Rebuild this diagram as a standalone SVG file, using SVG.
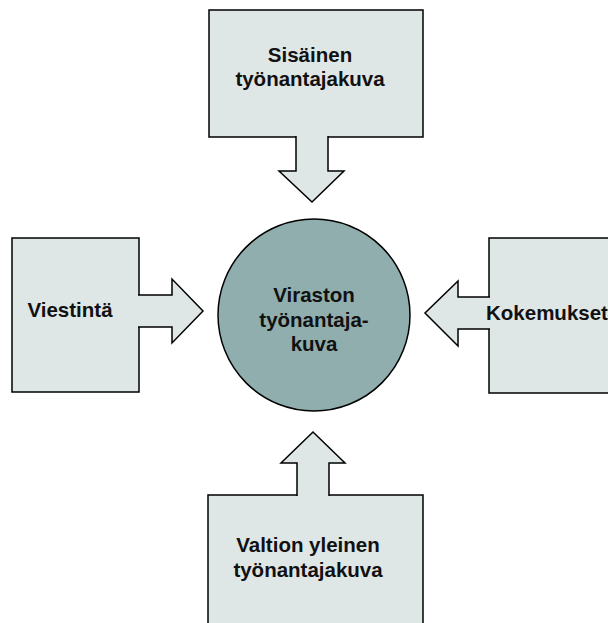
<svg xmlns="http://www.w3.org/2000/svg" width="608" height="623" viewBox="0 0 608 623">
<style>
.box{fill:#dfe6e6;stroke:#000;stroke-width:1.5}
.arr{fill:#dfe6e6;stroke:#000;stroke-width:1.5;stroke-linejoin:miter}
.hub{fill:#90aeae;stroke:#000;stroke-width:1.5}
text{font-family:"Liberation Sans",Arial,sans-serif;font-weight:bold;font-size:20.5px;fill:#111;text-anchor:middle}
</style>
<rect width="608" height="623" fill="#fff"/>
<g id="node-sisainen">
<rect class="box" x="209" y="10" width="214" height="127"/>
<text x="310" y="62">Sisäinen</text>
<text x="310" y="86">työnantajakuva</text>
</g>
<g id="node-viestinta">
<rect class="box" x="12" y="238" width="127" height="154"/>
<text x="70" y="317">Viestintä</text>
</g>
<g id="node-kokemukset">
<rect class="box" x="489" y="238" width="130" height="155"/>
</g>
<g id="node-valtion">
<rect class="box" x="208" y="495" width="215" height="140"/>
<text x="308" y="552">Valtion yleinen</text>
<text x="308" y="577">työnantajakuva</text>
</g>
<g id="connectors">
<path class="arr" d="M328,136 V171 H344 L312,202 L279,171 H296 V136"/>
<path class="arr" d="M138,327 H172 V343 L203,311 L172,279 V295 H138"/>
<path class="arr" d="M490,297 H458 V281 L425,313 L458,346 V329 H490"/>
<path class="arr" d="M297,496 V463 H281 L313,432 L345,463 H329 V496"/>
</g>
<g id="node-kokemukset-label">
<text x="486" y="320" style="text-anchor:start">Kokemukset</text>
</g>
<g id="node-virasto">
<circle class="hub" cx="314" cy="315" r="96"/>
<text x="314" y="302">Viraston</text>
<text x="314" y="327">työnantaja-</text>
<text x="314" y="351">kuva</text>
</g>
</svg>
